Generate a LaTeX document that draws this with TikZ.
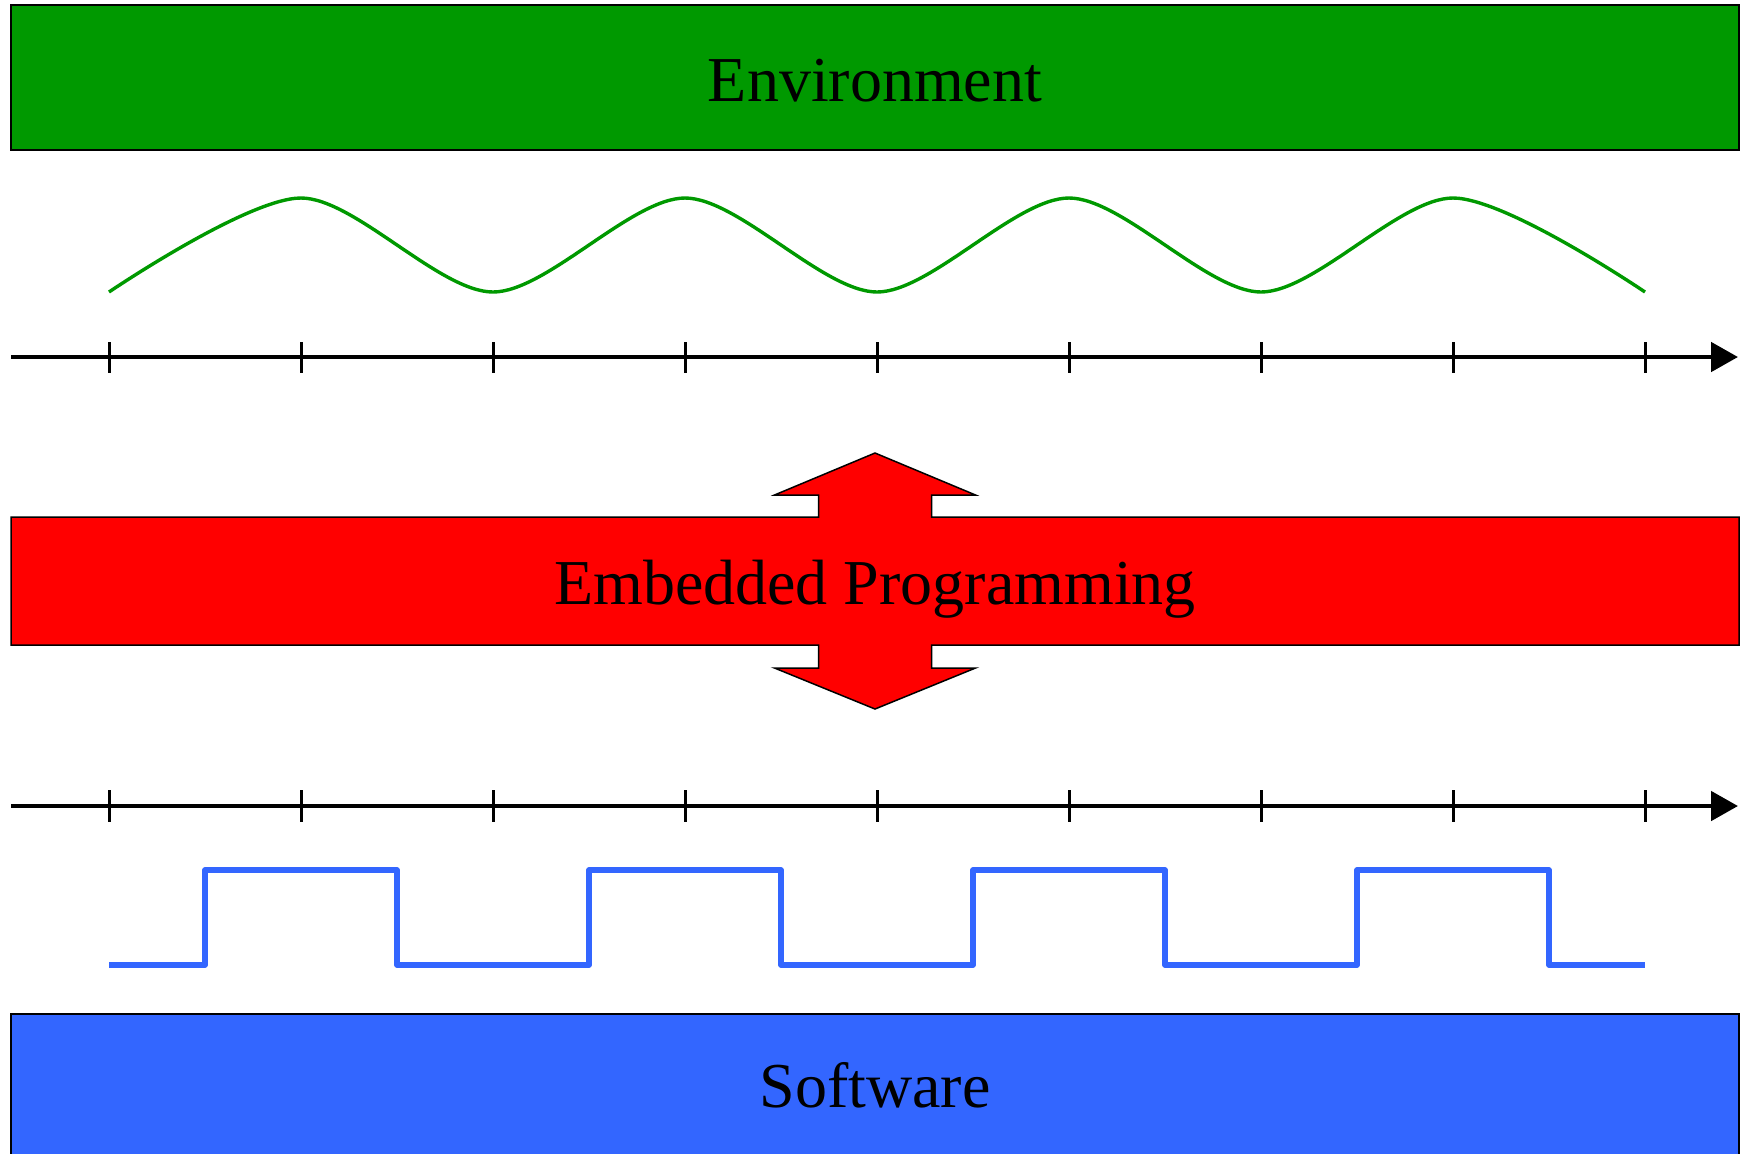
\documentclass[tikz,border=0pt]{standalone}
\usepackage{fontspec}
\setmainfont{Liberation Serif}
\usetikzlibrary{arrows.meta,calc}
\pgfdeclarelayer{background}
\pgfsetlayers{background,main}
\definecolor{envgreen}{RGB}{0,153,0}
\definecolor{swblue}{RGB}{51,102,255}
\definecolor{progred}{RGB}{255,0,0}
\begin{document}
\begin{tikzpicture}[x=0.5pt,y=-0.5pt,
  band/.style={minimum width=864pt,inner sep=0pt,outer sep=0pt,
    font=\fontsize{32}{38}\selectfont,text depth=0pt,text height=23.5pt},
  border/.style={draw=black,line width=0.75pt},
  axis/.style={line width=2.4pt,-{Triangle[length=13.5pt,width=14.5pt]}},
  tickmark/.style={line width=1.5pt},
  signal/.style={line width=1.7pt,envgreen,line join=round},
  digital/.style={line width=2.6pt,swblue,line join=round}]
\useasboundingbox (0,0) rectangle (1743,1153);
\clip (0,0) rectangle (1743,1153);

% environment band
\node[band,border,fill=envgreen,minimum height=72.5pt] (env) at (875,77.5) {Environment};

% analogue signal
\draw[signal] plot[smooth] coordinates {(109,292) (301,198) (493,292) (685,198)
  (877,292) (1069,198) (1261,292) (1453,198) (1645,292)};

% upper time axis
\coordinate (ta0) at (11,357);
\coordinate (ta1) at (1738,357);
\draw[axis] (ta0) -- (ta1);
\foreach \t in {109,301,...,1645}
  \draw[tickmark] (\t,342) -- (\t,373);

% embedded programming band with double arrow
\node[band,minimum height=64pt] (prog) at (875,581) {Embedded Programming};
\begin{pgfonlayer}{background}
\draw[border,fill=progred,line join=miter]
  (prog.north west) -- ($(prog.north)+(-56.5,0)$) -- ($(prog.north)+(-56.5,-22)$)
  -- ($(prog.north)+(-100.5,-22)$) -- ($(prog.north)+(0,-64)$)
  -- ($(prog.north)+(100.5,-22)$) -- ($(prog.north)+(56.5,-22)$)
  -- ($(prog.north)+(56.5,0)$) -- (prog.north east) -- (prog.south east)
  -- ($(prog.south)+(56.5,0)$) -- ($(prog.south)+(56.5,23)$)
  -- ($(prog.south)+(100.5,23)$) -- ($(prog.south)+(0,64)$)
  -- ($(prog.south)+(-100.5,23)$) -- ($(prog.south)+(-56.5,23)$)
  -- ($(prog.south)+(-56.5,0)$) -- (prog.south west) -- cycle;
\end{pgfonlayer}

% lower time axis
\coordinate (tb0) at (11,806);
\coordinate (tb1) at (1738,806);
\draw[axis] (tb0) -- (tb1);
\foreach \t in {109,301,...,1645}
  \draw[tickmark] (\t,790) -- (\t,822);

% digital signal
\draw[digital] (109,965) -- (205,965) -- (205,870) -- (397,870) -- (397,965)
  -- (589,965) -- (589,870) -- (781,870) -- (781,965) -- (973,965)
  -- (973,870) -- (1165,870) -- (1165,965) -- (1357,965) -- (1357,870)
  -- (1549,870) -- (1549,965) -- (1645,965);

% software band
\node[band,border,fill=swblue,minimum height=73.5pt,text height=19.5pt] (sw) at (875,1087.5) {Software};
\end{tikzpicture}
\end{document}
